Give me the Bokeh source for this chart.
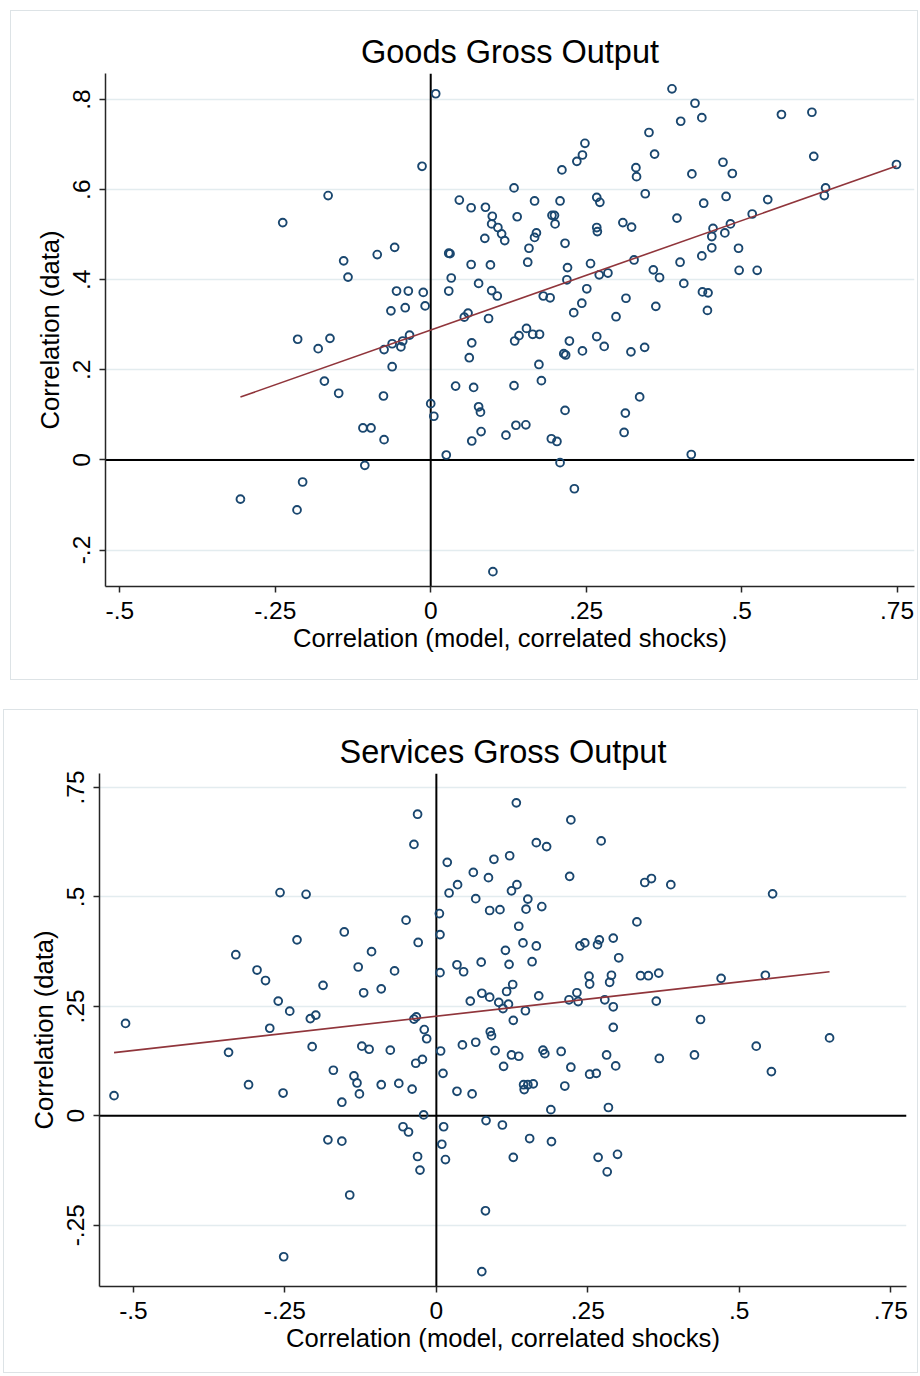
import math
import numpy as np
from bokeh.plotting import figure
from bokeh.models import Span, FixedTicker, CustomJSTickFormatter, Range1d
from bokeh.embed import file_html
from bokeh.resources import INLINE

# ---------------- data ----------------
goods_title = "Goods Gross Output"
services_title = "Services Gross Output"
x_label = "Correlation (model, correlated shocks)"
y_label = "Correlation (data)"

goods_model = [
    -0.165, -0.238, -0.140, -0.133, -0.086, 0.008, -0.014, 0.046, 0.065, 0.088,
    0.099, 0.098, 0.108, 0.114, 0.119, 0.087, 0.134, 0.139, 0.167, 0.208,
    0.211, 0.235, 0.244, 0.248, 0.195, 0.199, 0.200, 0.170, 0.167, 0.158,
    0.216, 0.156, 0.220, 0.257, 0.219, 0.271, 0.285, 0.267, 0.272, 0.267,
    0.268, 0.309, 0.323, 0.330, 0.331, 0.345, 0.351, 0.360, 0.327, 0.358,
    0.251, 0.243, 0.230, 0.298, 0.314, 0.362, 0.181, 0.192, 0.077, 0.096,
    0.065, 0.033, 0.029, 0.031, 0.029, 0.098, 0.107, 0.060, 0.054, 0.093,
    -0.058, -0.055, -0.036, -0.012, -0.064, -0.041, -0.009, 0.388, 0.425, 0.402,
    0.436, 0.564, 0.613, 0.616, 0.749, 0.470, 0.485, 0.420, 0.475, 0.439,
    0.542, 0.635, 0.633, 0.396, 0.517, 0.454, 0.482, 0.452, 0.473, 0.452,
    0.495, 0.436, 0.401, 0.368, 0.496, 0.525, 0.407, 0.437, 0.446, 0.445,
    -0.214, -0.181, -0.162, -0.075, -0.171, -0.148, -0.076, -0.109, -0.096, -0.075,
    -0.106, -0.206, -0.306, -0.215, -0.062, -0.048, -0.045, -0.034, -0.062, 0.000,
    0.005, 0.025, 0.066, 0.062, 0.040, 0.069, 0.077, 0.080, 0.081, 0.066,
    0.135, 0.142, 0.154, 0.164, 0.175, 0.174, 0.178, 0.134, 0.137, 0.153,
    0.121, 0.194, 0.203, 0.208, 0.231, 0.100, 0.216, 0.223, 0.214, 0.217,
    0.244, 0.267, 0.279, 0.322, 0.344, 0.336, 0.313, 0.311, 0.419,
]
goods_data = [
    0.587, 0.527, 0.442, 0.406, 0.456, 0.813, 0.652, 0.577, 0.560, 0.561,
    0.541, 0.524, 0.516, 0.502, 0.487, 0.492, 0.604, 0.540, 0.575, 0.575,
    0.644, 0.663, 0.677, 0.703, 0.543, 0.543, 0.524, 0.504, 0.494, 0.470,
    0.481, 0.439, 0.427, 0.436, 0.400, 0.411, 0.415, 0.583, 0.572, 0.516,
    0.507, 0.527, 0.517, 0.649, 0.629, 0.591, 0.727, 0.679, 0.444, 0.422,
    0.380, 0.348, 0.327, 0.318, 0.359, 0.341, 0.364, 0.360, 0.392, 0.433,
    0.434, 0.404, 0.459, 0.458, 0.375, 0.376, 0.364, 0.326, 0.317, 0.314,
    0.472, 0.375, 0.375, 0.372, 0.331, 0.338, 0.342, 0.824, 0.792, 0.752,
    0.760, 0.767, 0.772, 0.674, 0.656, 0.661, 0.636, 0.635, 0.585, 0.570,
    0.578, 0.604, 0.587, 0.537, 0.546, 0.514, 0.524, 0.496, 0.504, 0.471,
    0.470, 0.453, 0.439, 0.405, 0.421, 0.421, 0.392, 0.373, 0.371, 0.332,
    0.268, 0.247, 0.270, 0.245, 0.175, 0.148, 0.142, 0.071, 0.071, 0.045,
    -0.012, -0.049, -0.087, -0.111, 0.258, 0.251, 0.264, 0.277, 0.207, 0.125,
    0.097, 0.011, 0.260, 0.227, 0.164, 0.161, 0.118, 0.106, 0.063, 0.042,
    0.264, 0.276, 0.292, 0.279, 0.279, 0.212, 0.176, 0.165, 0.077, 0.078,
    0.055, 0.047, 0.041, -0.006, -0.064, -0.248, 0.110, 0.264, 0.236, 0.233,
    0.242, 0.274, 0.252, 0.240, 0.250, 0.140, 0.104, 0.061, 0.012,
]

services_model = [
    -0.258, -0.215, -0.152, -0.230, -0.331, -0.107, -0.296, -0.282, -0.129, -0.187,
    -0.120, -0.261, -0.242, -0.208, -0.199, -0.513, -0.275,
    0.132, -0.031, 0.222, 0.272, -0.037, 0.165, 0.182, 0.018, 0.095, 0.121,
    0.061, 0.086, 0.220, 0.035, 0.021, 0.133, 0.124, 0.065, 0.151, 0.088,
    0.105, 0.148, 0.174, 0.005, -0.050, 0.136, 0.006, -0.030, 0.143, 0.165,
    0.114, -0.069, 0.006, 0.034, 0.045, 0.074, 0.120, 0.158, 0.237, 0.245,
    0.266, 0.269, 0.292, 0.301, 0.331, 0.344, 0.252, 0.253, 0.289, 0.286,
    0.337, -0.091, 0.126, 0.116, 0.075, 0.088, 0.056, 0.103, 0.119, 0.110,
    0.169, 0.147, 0.127, 0.219, 0.232, 0.234, 0.278, 0.292, 0.292, -0.037,
    -0.033, -0.020, 0.089,
    0.355, 0.387, 0.555, 0.350, 0.367, 0.363, 0.470, 0.543, 0.436, 0.649,
    -0.343, -0.205, -0.123, -0.111, -0.170, -0.136, -0.131, -0.127, -0.156, -0.310,
    -0.253, -0.532, -0.179, -0.156, -0.143, -0.252,
    -0.016, 0.091, -0.076, 0.007, 0.043, 0.065, 0.097, 0.124, 0.136, 0.176,
    0.179, 0.206, 0.281, -0.034, -0.023, 0.011, 0.111, 0.222, 0.296, 0.253,
    0.264, -0.091, -0.062, -0.040, 0.034, 0.059, 0.144, 0.151, 0.160, 0.145,
    0.212, 0.189, 0.284, -0.021, -0.055, -0.046, 0.012, 0.009, 0.015, -0.031,
    -0.027, 0.082, 0.109, 0.154, 0.190, 0.127, 0.267, 0.299, 0.282, 0.081,
    0.075,
    0.368, 0.426, 0.528, 0.553,
]
services_data = [
    0.510, 0.506, 0.420, 0.402, 0.368, 0.375, 0.333, 0.309, 0.340, 0.298,
    0.281, 0.262, 0.239, 0.222, 0.230, 0.211, 0.200,
    0.715, 0.689, 0.676, 0.628, 0.620, 0.624, 0.615, 0.579, 0.586, 0.594,
    0.556, 0.544, 0.547, 0.528, 0.509, 0.528, 0.514, 0.496, 0.495, 0.469,
    0.471, 0.472, 0.478, 0.462, 0.447, 0.433, 0.414, 0.396, 0.395, 0.388,
    0.378, 0.331, 0.327, 0.345, 0.329, 0.351, 0.346, 0.352, 0.388, 0.395,
    0.391, 0.402, 0.406, 0.361, 0.443, 0.533, 0.319, 0.301, 0.321, 0.305,
    0.320, 0.290, 0.300, 0.284, 0.280, 0.271, 0.262, 0.259, 0.255, 0.245,
    0.274, 0.240, 0.218, 0.265, 0.281, 0.261, 0.265, 0.249, 0.202, 0.221,
    0.226, 0.197, 0.192,
    0.542, 0.528, 0.507, 0.320, 0.326, 0.262, 0.314, 0.321, 0.220, 0.178,
    0.145, 0.158, 0.159, 0.152, 0.104, 0.091, 0.075, 0.050, 0.031, 0.071,
    0.052, 0.046, -0.055, -0.058, -0.181, -0.322,
    0.176, 0.183, 0.150, 0.148, 0.162, 0.168, 0.149, 0.139, 0.136, 0.150,
    0.142, 0.147, 0.139, 0.120, 0.129, 0.097, 0.113, 0.111, 0.114, 0.095,
    0.097, 0.071, 0.074, 0.061, 0.056, 0.050, 0.071, 0.071, 0.073, 0.060,
    0.068, 0.014, 0.019, 0.002, -0.025, -0.037, -0.025, -0.065, -0.100, -0.093,
    -0.124, -0.011, -0.021, -0.052, -0.059, -0.095, -0.095, -0.088, -0.128, -0.217,
    -0.356,
    0.131, 0.139, 0.159, 0.101,
]

goods_xticks = [-0.5, -0.25, 0, 0.25, 0.5, 0.75]
goods_xlabels = ["-.5", "-.25", "0", ".25", ".5", ".75"]
goods_yticks = [-0.2, 0, 0.2, 0.4, 0.6, 0.8]
goods_ylabels = ["-.2", "0", ".2", ".4", ".6", ".8"]

services_xticks = [-0.5, -0.25, 0, 0.25, 0.5, 0.75]
services_xlabels = ["-.5", "-.25", "0", ".25", ".5", ".75"]
services_yticks = [-0.25, 0, 0.25, 0.5, 0.75]
services_ylabels = ["-.25", "0", ".25", ".5", ".75"]

# ---------------- style ----------------
FONT = "Liberation Sans"
NAVY = "#1a476f"
MAROON = "#90353b"
GRID = "#e3ecef"
AXIS = "#262626"

FMT_CODE = """
for (let i = 0; i < tvals.length; i++) {
  if (Math.abs(tvals[i] - tick) < 1e-9) return tlabels[i];
}
return '';
"""


def make_panel(title, xs, ys, xticks, xlabels, yticks, ylabels, xr, yr,
               width, height, mb_top, mb_bottom, mb_left, mb_right, margin):
    p = figure(width=width, height=height,
               x_range=Range1d(*xr), y_range=Range1d(*yr),
               output_backend="svg", toolbar_location=None,
               min_border_top=mb_top, min_border_bottom=mb_bottom,
               min_border_left=mb_left, min_border_right=mb_right)
    p.margin = margin
    p.styles = {"border": "1px solid #dde3e6"}
    p.title.text = title
    p.title.text_font = FONT
    p.title.text_font_size = "32.5px"
    p.title.text_font_style = "normal"
    p.title.text_color = "black"
    p.title.align = "center"
    p.title.standoff = 8

    p.outline_line_color = None
    p.background_fill_color = "white"
    p.border_fill_color = "white"

    p.xaxis.ticker = FixedTicker(ticks=xticks)
    p.yaxis.ticker = FixedTicker(ticks=yticks)
    p.xaxis.formatter = CustomJSTickFormatter(args=dict(tvals=xticks, tlabels=xlabels), code=FMT_CODE)
    p.yaxis.formatter = CustomJSTickFormatter(args=dict(tvals=yticks, tlabels=ylabels), code=FMT_CODE)
    p.yaxis.major_label_orientation = "vertical"

    for ax in (p.xaxis, p.yaxis):
        ax.axis_line_color = AXIS
        ax.axis_line_width = 1.5
        ax.major_tick_line_color = AXIS
        ax.major_tick_line_width = 1.5
        ax.major_tick_in = 0
        ax.major_tick_out = 6
        ax.minor_tick_line_color = None
        ax.major_label_text_font = FONT
        ax.major_label_text_font_size = "24.5px"
        ax.major_label_text_color = "black"
        ax.axis_label_text_font = FONT
        ax.axis_label_text_font_size = "25.6px"
        ax.axis_label_text_font_style = "normal"
        ax.axis_label_text_color = "black"
        ax.major_label_standoff = 9
    p.xaxis.axis_label_standoff = 2
    p.yaxis.axis_label_standoff = 7
    p.xaxis.axis_label = x_label
    p.yaxis.axis_label = y_label

    p.xgrid.visible = False
    p.ygrid.ticker = FixedTicker(ticks=yticks)
    p.ygrid.grid_line_color = GRID
    p.ygrid.grid_line_width = 1.5

    p.add_layout(Span(location=0, dimension="height", line_color="black",
                      line_width=2, level="underlay"))
    p.add_layout(Span(location=0, dimension="width", line_color="black",
                      line_width=2, level="underlay"))

    p.scatter(xs, ys, marker="circle", size=7.8, fill_color=None,
              line_color=NAVY, line_width=1.9)

    coef = np.polyfit(np.array(xs), np.array(ys), 1)
    fx = np.array([min(xs), max(xs)])
    fy = np.polyval(coef, fx)
    p.line(fx, fy, line_color=MAROON, line_width=1.6)
    return p


p1 = make_panel(goods_title, goods_model, goods_data,
                goods_xticks, goods_xlabels, goods_yticks, goods_ylabels,
                (-0.523, 0.778), (-0.281, 0.858),
                908, 670, 62, 95, 94, 5, (10, 0, 0, 10))
p2 = make_panel(services_title, services_model, services_data,
                services_xticks, services_xlabels, services_yticks, services_ylabels,
                (-0.556, 0.776), (-0.390, 0.782),
                915, 664, 63, 88, 95, 13, (29, 0, 0, 3))

open("out.html", "w").write(file_html([p1, p2], INLINE))
